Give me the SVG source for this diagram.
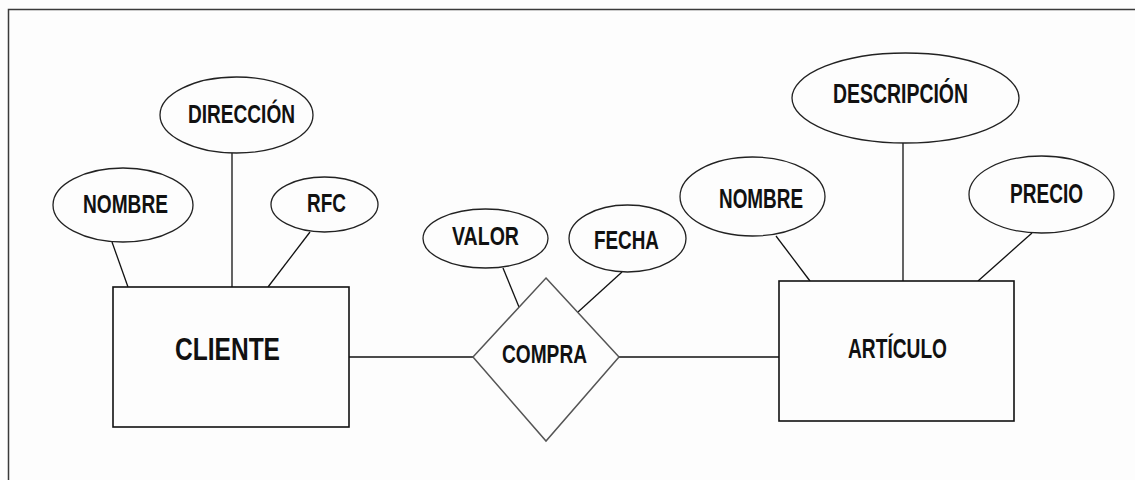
<svg xmlns="http://www.w3.org/2000/svg" width="1135" height="480" viewBox="0 0 1135 480">
<style>
.bg{fill:#fdfdfd}
.frame{fill:none;stroke:#3a3a3a;stroke-width:1.5}
.ent{fill:#fdfdfd;stroke:#111;stroke-width:1.6}
.rel{fill:#fdfdfd;stroke:#555;stroke-width:1.5}
.att{fill:#fdfdfd;stroke:#222;stroke-width:1.3}
.conn line{stroke:#111;stroke-width:1.3}
text{font-family:"Liberation Sans",Arial,sans-serif;font-weight:bold;fill:#111;text-anchor:start}
</style>
<rect class="bg" x="0" y="0" width="1135" height="480"/>
<path class="frame" d="M8.5,480 V9.5 H1135"/>
<g id="connectors" class="conn">
<line x1="112" y1="242" x2="128" y2="287"/>
<line x1="232" y1="153" x2="232" y2="287"/>
<line x1="310" y1="232" x2="268" y2="287"/>
<line x1="349" y1="357" x2="473" y2="357"/>
<line x1="619" y1="357" x2="779" y2="357"/>
<line x1="503" y1="268" x2="519" y2="307"/>
<line x1="622" y1="272" x2="578" y2="312"/>
<line x1="776" y1="236" x2="810" y2="281"/>
<line x1="903" y1="143" x2="903" y2="281"/>
<line x1="1032" y1="233" x2="978" y2="281"/>
</g>
<g id="cliente">
<rect class="ent" x="113" y="287" width="236" height="140"/>
<text x="175" y="360" font-size="31" textLength="105" lengthAdjust="spacingAndGlyphs">CLIENTE</text>
</g>
<g id="nombre-cliente">
<ellipse class="att" cx="123" cy="205" rx="70" ry="37"/>
<text x="83" y="213" font-size="25" textLength="85" lengthAdjust="spacingAndGlyphs">NOMBRE</text>
</g>
<g id="direccion">
<ellipse class="att" cx="236.5" cy="115" rx="76.5" ry="38"/>
<text x="188" y="123" font-size="25" textLength="107" lengthAdjust="spacingAndGlyphs">DIRECCIÓN</text>
</g>
<g id="rfc">
<ellipse class="att" cx="324.5" cy="204.5" rx="53.5" ry="27.5"/>
<text x="307" y="212" font-size="25" textLength="39" lengthAdjust="spacingAndGlyphs">RFC</text>
</g>
<g id="compra">
<polygon class="rel" points="546,278 619,357 546,441 473,357"/>
<text x="502" y="363" font-size="25" textLength="85" lengthAdjust="spacingAndGlyphs">COMPRA</text>
</g>
<g id="valor">
<ellipse class="att" cx="485.5" cy="238.5" rx="62.5" ry="29.5"/>
<text x="452" y="245" font-size="25" textLength="67" lengthAdjust="spacingAndGlyphs">VALOR</text>
</g>
<g id="fecha">
<ellipse class="att" cx="627.5" cy="238.5" rx="58.5" ry="33.5"/>
<text x="594" y="249" font-size="25" textLength="65" lengthAdjust="spacingAndGlyphs">FECHA</text>
</g>
<g id="articulo">
<rect class="ent" x="779" y="281" width="235" height="140"/>
<text x="848" y="358" font-size="27" textLength="99" lengthAdjust="spacingAndGlyphs">ARTÍCULO</text>
</g>
<g id="nombre-articulo">
<ellipse class="att" cx="752.5" cy="196.5" rx="72.5" ry="39.5"/>
<text x="719" y="208" font-size="27" textLength="84" lengthAdjust="spacingAndGlyphs">NOMBRE</text>
</g>
<g id="descripcion">
<ellipse class="att" cx="905.5" cy="98" rx="113.5" ry="45"/>
<text x="833" y="103" font-size="27" textLength="135" lengthAdjust="spacingAndGlyphs">DESCRIPCIÓN</text>
</g>
<g id="precio">
<ellipse class="att" cx="1041.5" cy="194.5" rx="72.5" ry="38.5"/>
<text x="1010" y="203" font-size="27" textLength="73" lengthAdjust="spacingAndGlyphs">PRECIO</text>
</g>
</svg>
